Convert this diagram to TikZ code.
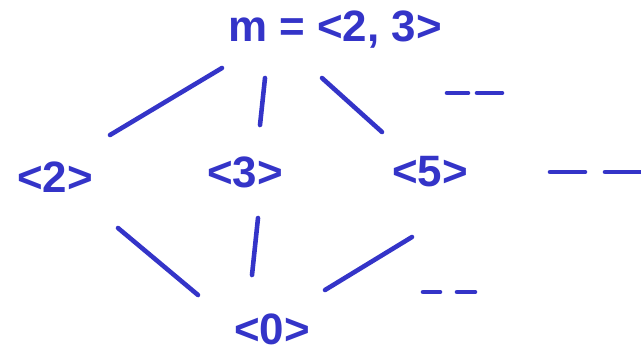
\documentclass[tikz,border=0pt]{standalone}
\usepackage{fontspec}
\setmainfont{Liberation Sans}
\usetikzlibrary{positioning}
\definecolor{penBlue}{RGB}{52, 52, 200}

\begin{document}
\begin{tikzpicture}[
  x=0.02cm, y=-0.02cm,
  elem/.style={
    text=penBlue,
    inner sep=2pt,
    font=\fontsize{25}{30}\selectfont\bfseries
  },
  link/.style={penBlue,line width=2.6pt,line cap=round},
  trail/.style={penBlue,line width=2.6pt,line cap=round}
]
  \useasboundingbox (0,0) rectangle (641,353);
  \node[elem] (top) at (335,30) {m = <2, 3>};
  \node[elem] (two) at (55,177) {<2>};
  \node[elem] (three) at (245,172) {<3>};
  \node[elem] (five) at (430,172) {<5>};
  \node[elem] (zero) at (272,329) {<0>};
  \draw[link] ([shift={(-113,38)}]top.center) -- ([shift={(55,-42)}]two.center);
  \draw[link] ([shift={(-70,48)}]top.center) -- ([shift={(15,-47)}]three.center);
  \draw[link] ([shift={(-13,48)}]top.center) -- ([shift={(-48,-40)}]five.center);
  \draw[link] ([shift={(63,51)}]two.center) -- ([shift={(-74,-34)}]zero.center);
  \draw[link] ([shift={(13,46)}]three.center) -- ([shift={(-20,-54)}]zero.center);
  \draw[link] ([shift={(-18,65)}]five.center) -- ([shift={(53,-39)}]zero.center);
  % more elements
  \coordinate (moreA) at (447,93);
  \coordinate (moreB) at (550,172);
  \coordinate (moreC) at (423,292);
  \draw[trail] (moreA) -- ++(21,0) ++(9,0) -- ++(25,0);
  \draw[trail] (moreB) -- ++(35,0) ++(20,0) -- ++(35,0);
  \draw[trail] (moreC) -- ++(17,0) ++(17,0) -- ++(18,0);
\end{tikzpicture}
\end{document}
